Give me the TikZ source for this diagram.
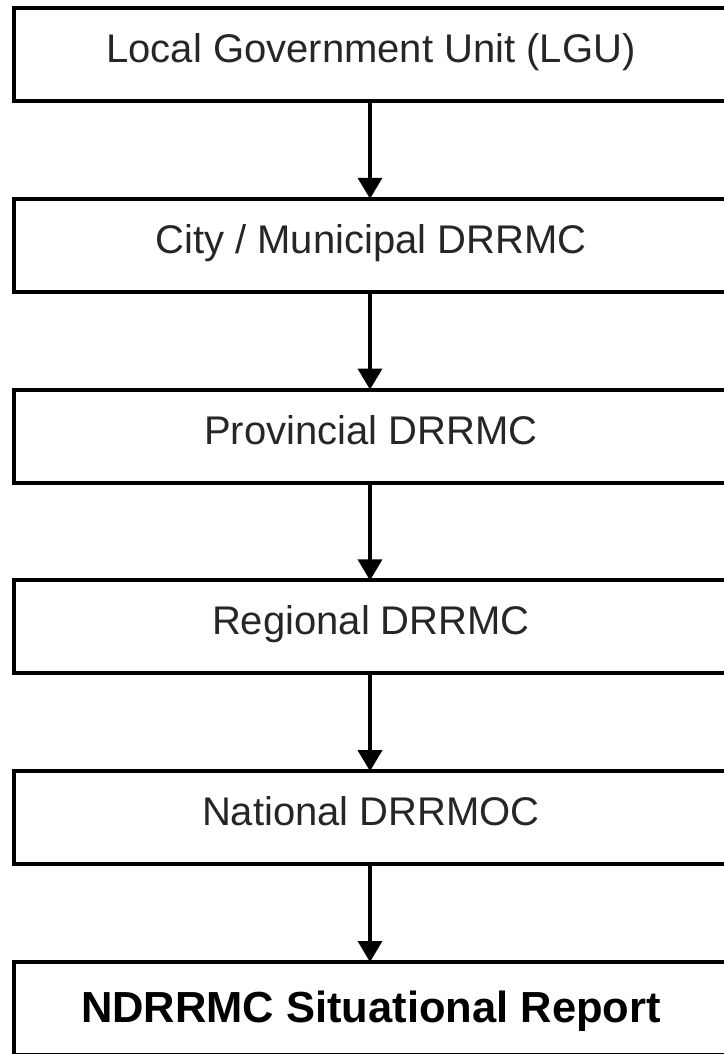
\documentclass[tikz,border=0pt]{standalone}
\usepackage{fontspec}
\setmainfont{Liberation Sans}
\usetikzlibrary{arrows.meta}
\begin{document}
\begin{tikzpicture}[x=1pt,y=-1pt,
  flowbox/.style={draw=black, line width=4pt, minimum width=714pt, minimum height=93pt,
    inner sep=0pt, outer sep=0pt, text height=28pt, text depth=12pt,
    font=\fontsize{40}{48}\selectfont, text=black!85},
  finalbox/.style={flowbox, text height=30pt, text depth=3pt,
    font=\fontsize{43.5}{52}\selectfont\bfseries, text=black},
  flowarrow/.style={draw=black, line width=3.5pt, -{Triangle[width=24pt,length=21pt]}}
]
\useasboundingbox (0,0) rectangle (723,1054);
\node[flowbox] (b1) at (371,54.5) {Local Government Unit (LGU)};
\node[flowbox] (b2) at (371,245.3) {City / Municipal DRRMC};
\node[flowbox] (b3) at (371,436.1) {Provincial DRRMC};
\node[flowbox] (b4) at (371,626.9) {Regional DRRMC};
\node[flowbox] (b5) at (371,817.7) {National DRRMOC};
\node[finalbox] (b6) at (371,1008.5) {NDRRMC Situational Report};
\coordinate (a1) at (370,101);
\draw[flowarrow] (b1.south -| a1) -- (b2.north -| a1);
\draw[flowarrow] (b2.south -| a1) -- (b3.north -| a1);
\draw[flowarrow] (b3.south -| a1) -- (b4.north -| a1);
\draw[flowarrow] (b4.south -| a1) -- (b5.north -| a1);
\draw[flowarrow] (b5.south -| a1) -- (b6.north -| a1);
\end{tikzpicture}
\end{document}
